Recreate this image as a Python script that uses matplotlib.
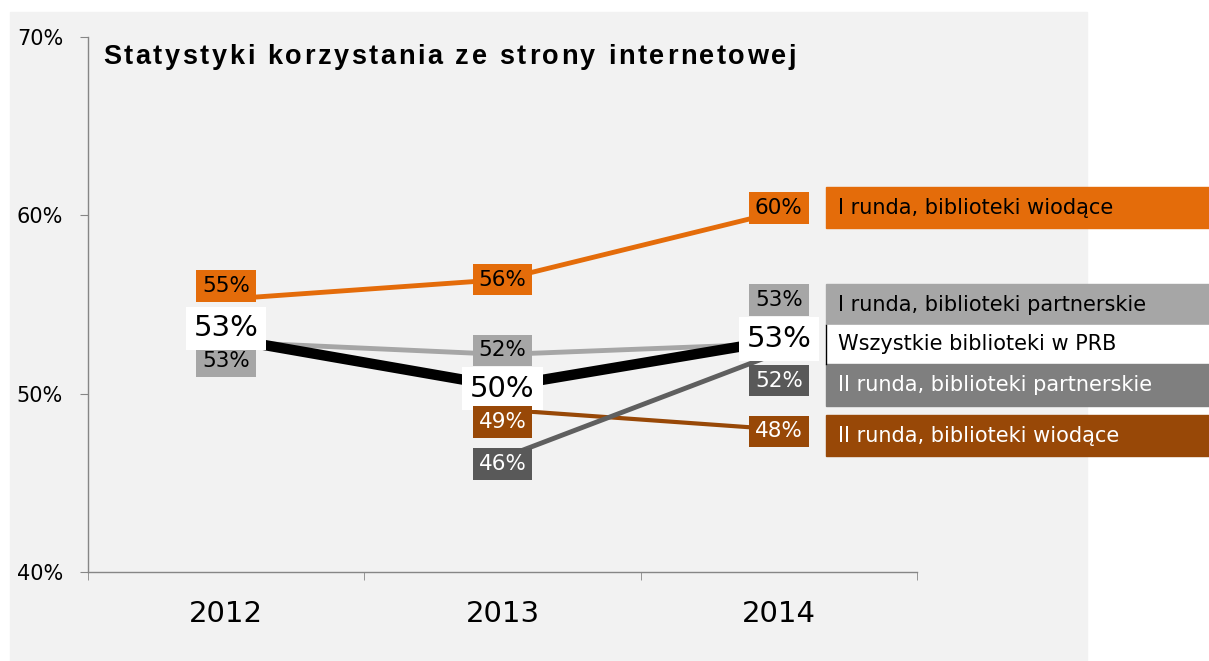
import numpy as np
import matplotlib
matplotlib.use("Agg")
import matplotlib.pyplot as plt
from matplotlib.patches import Rectangle

# dane
lata = ["2012", "2013", "2014"]
nazwy = ["I runda, biblioteki wiodące", "I runda, biblioteki partnerskie",
         "Wszystkie biblioteki w PRB", "II runda, biblioteki partnerskie",
         "II runda, biblioteki wiodące"]
wiodace_1 = [55.3, 56.4, 60.2]
partnerskie_1 = [52.9, 52.2, 52.8]
wszystkie = [53.1, 50.4, 53.0]
partnerskie_2 = [np.nan, 46.4, 52.3]
wiodace_2 = [np.nan, 49.1, 48.0]
y_ticks = [40, 50, 60, 70]
tytul = "Statystyki korzystania ze strony internetowej"

W, H = 1209, 661
fig = plt.figure(figsize=(W / 100, H / 100), dpi=100)
fig.patch.set_facecolor("white")
plt.rcParams["font.family"] = ["DejaVu Sans"]

# szare tło wykresu
fig.add_artist(Rectangle((10 / W, 0), (1087 - 10) / W, (661 - 12) / H,
                         transform=fig.transFigure, color="#f2f2f2", zorder=0))

ax = fig.add_axes([88 / W, 1 - 572 / H, 829 / W, 535 / H])
ax.set_facecolor("none")
ax.set_xlim(-0.5, 2.5)
ax.set_ylim(40, 70)
for s in ["top", "right"]:
    ax.spines[s].set_visible(False)
for s in ["left", "bottom"]:
    ax.spines[s].set_color("#868686")
    ax.spines[s].set_linewidth(1)

ax.set_yticks(y_ticks)
ax.set_yticklabels([f"{v}%" for v in y_ticks], fontsize=15)
ax.tick_params(axis="y", length=6, color="#868686", pad=12)
x = np.arange(len(lata))
ax.set_xticks(x)
ax.set_xticklabels(lata, fontsize=21)
ax.tick_params(axis="x", which="major", length=0, pad=20)
ax.set_xticks([-0.5, 0.5, 1.5, 2.5], minor=True)
ax.tick_params(axis="x", which="minor", length=6, color="#868686")

# serie: (wartości, kolor linii, grubość, kolor etykiety, kolor tekstu, przesunięcia etykiet w px, rozmiar)
serie = [
    (wiodace_1, "#E46C0A", 3.5, "#E46C0A", "black", [-13, 0, -4], 15.5),
    (partnerskie_1, "#A6A6A6", 3.5, "#A6A6A6", "black", [19, -4, -44], 15.5),
    (wszystkie, "black", 7.5, "white", "black", [-10, 2, -1], 21),
    (wiodace_2, "#984807", 3.0, "#984807", "white", [0, 12, 2], 15.5),
    (partnerskie_2, "#5f5f5f", 3.5, "#595959", "white", [0, 6, 28], 15.5),
]

for i, (vals, col, lw, bcol, tcol, offs, fs) in enumerate(serie):
    ax.plot(x, vals, color=col, lw=lw, solid_capstyle="butt", zorder=2 + i)

for i, (vals, col, lw, bcol, tcol, offs, fs) in enumerate(serie):
    for xi, v, o in zip(x, vals, offs):
        if np.isnan(v):
            continue
        ax.annotate(f"{round(v):.0f}%", (xi, v), xytext=(0, -o * 0.72),
                    textcoords="offset points", ha="center", va="center",
                    fontsize=fs, color=tcol, zorder=10,
                    bbox=dict(boxstyle="square,pad=0.27", fc=bcol, ec="none"))

# tytuł z rozstrzelonymi literami
renderer = fig.canvas.get_renderer()
xpos = 103
for ch in tytul:
    t = fig.text(xpos / W, 1 - 57 / H, ch, fontsize=19.5, fontweight="bold",
                 family="Liberation Sans", va="center", ha="left")
    if ch == " ":
        szer = 19.5 * 100 / 72 * 0.278
    else:
        szer = t.get_window_extent(renderer).width
    xpos += szer + 2.6

# legenda po prawej
leg_kolory = ["#E46C0A", "#A6A6A6", "white", "#7F7F7F", "#984807"]
leg_tekst = ["black", "black", "black", "white", "white"]
leg_y = [(187, 228), (284, 325), (325, 364), (364, 406), (415, 456)]
for nazwa, kol, tk, (y0, y1) in zip(nazwy, leg_kolory, leg_tekst, leg_y):
    fig.add_artist(Rectangle((826 / W, 1 - y1 / H), (W - 826) / W, (y1 - y0) / H,
                             transform=fig.transFigure, color=kol, zorder=1))
    fig.text(838 / W, 1 - (y0 + y1) / 2 / H, nazwa, fontsize=15, color=tk,
             va="center", ha="left", zorder=2)
fig.add_artist(plt.Line2D([826 / W, 826 / W], [1 - 364 / H, 1 - 325 / H],
                          transform=fig.transFigure, color="black", lw=1, zorder=3))

fig.savefig("out.png", dpi=100)
